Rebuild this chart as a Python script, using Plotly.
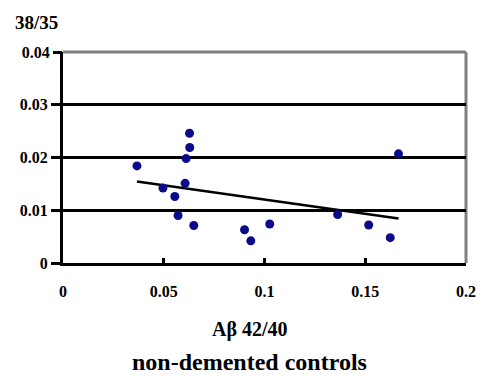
import numpy as np
import plotly.graph_objects as go

# Data
ab_42_40 = [0.0367, 0.0496, 0.0555, 0.0571, 0.0606, 0.0611, 0.0629, 0.0628,
            0.0649, 0.0901, 0.0932, 0.1026, 0.1363, 0.1517, 0.1624, 0.1665]
ab_38_35 = [0.0184, 0.0142, 0.0126, 0.0090, 0.0151, 0.0198, 0.0219, 0.0246,
            0.0071, 0.0063, 0.0042, 0.0074, 0.0092, 0.0072, 0.0048, 0.0207]
x_ticks = [0, 0.05, 0.1, 0.15, 0.2]
x_labels = ["0", "0.05", "0.1", "0.15", "0.2"]
y_ticks = [0, 0.01, 0.02, 0.03, 0.04]
y_labels = ["0", "0.01", "0.02", "0.03", "0.04"]

xa = np.array(ab_42_40)
ya = np.array(ab_38_35)
slope, intercept = np.polyfit(xa, ya, 1)
tx = np.array([xa.min(), xa.max()])
ty = slope * tx + intercept

FONT = "Liberation Serif"

fig = go.Figure()
fig.add_trace(go.Scatter(
    x=tx, y=ty, mode="lines",
    line=dict(color="black", width=2.5),
    showlegend=False, hoverinfo="skip"))
fig.add_trace(go.Scatter(
    x=ab_42_40, y=ab_38_35, mode="markers",
    marker=dict(color="#0a0a8a", size=9),
    showlegend=False))

fig.update_layout(
    width=488, height=376,
    margin=dict(l=63, r=15, t=52, b=113),
    paper_bgcolor="white", plot_bgcolor="white",
    font=dict(family=FONT, color="black", size=15, weight="bold"),
    xaxis=dict(range=[0, 0.2], tickvals=x_ticks, ticktext=x_labels,
               showgrid=False, zeroline=False,
               showline=True, linecolor="black", linewidth=3,
               ticks="inside", ticklen=5, tickwidth=3, tickcolor="black",
               tickfont=dict(family=FONT, size=16, weight="bold"),
               ticklabelstandoff=12),
    yaxis=dict(range=[0, 0.04], tickvals=y_ticks[:-1], ticktext=y_labels[:-1],
               showgrid=True, gridcolor="black", gridwidth=3,
               zeroline=False,
               showline=True, linecolor="black", linewidth=3,
               ticks="outside", ticklen=9, tickwidth=3, tickcolor="black",
               tickfont=dict(family=FONT, size=16, weight="bold")),
    yaxis2=dict(range=[0, 0.04], tickvals=y_ticks[-1:], ticktext=y_labels[-1:],
                overlaying="y", side="left", showgrid=False, zeroline=False,
                showline=False,
                ticks="outside", ticklen=9, tickwidth=3, tickcolor="black",
                tickfont=dict(family=FONT, size=16, weight="bold")),
)
# invisible trace to activate the second y axis (carries the 0.04 label)
fig.add_trace(go.Scatter(x=[None], y=[None], yaxis="y2", showlegend=False,
                         hoverinfo="skip"))

# gray frame on top/right
fig.add_shape(type="line", xref="paper", yref="paper", x0=0, x1=1, y0=1, y1=1,
              line=dict(color="#7f7f7f", width=3), layer="below")
fig.add_shape(type="line", xref="paper", yref="paper", x0=1, x1=1, y0=0, y1=1,
              line=dict(color="#7f7f7f", width=3), layer="below")

fig.add_annotation(text="38/35", xref="paper", yref="paper", x=-0.125, y=1.08,
                   xanchor="left", yanchor="bottom", showarrow=False,
                   font=dict(family=FONT, size=19, weight="bold"))
fig.add_annotation(text="Aβ 42/40", xref="paper", yref="paper", x=0.463, y=-0.25,
                   xanchor="center", yanchor="top", showarrow=False,
                   font=dict(family=FONT, size=20, weight="bold"))
fig.add_annotation(text="non-demented controls", xref="paper", yref="paper",
                   x=0.463, y=-0.40, xanchor="center", yanchor="top",
                   showarrow=False,
                   font=dict(family=FONT, size=24, weight="bold"))

fig.write_html("out.html",
               config={"displayModeBar": False},
               post_script="document.body.style.margin='0';"
                           "document.body.style.overflow='hidden';")
